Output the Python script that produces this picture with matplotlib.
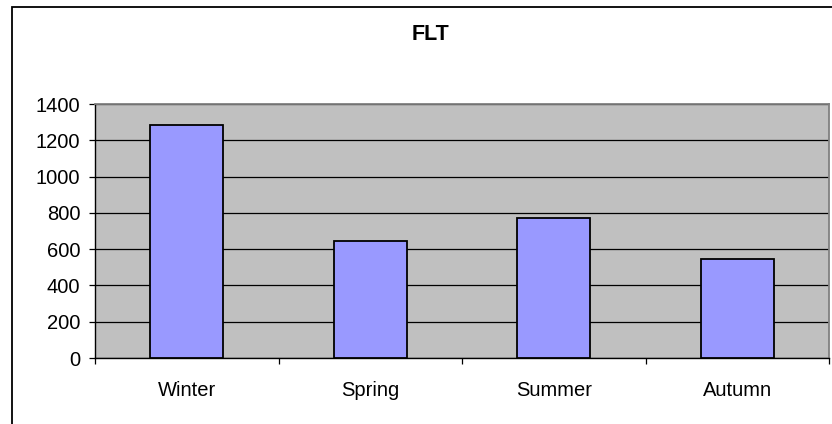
import matplotlib
matplotlib.use('Agg')
import matplotlib.pyplot as plt
from matplotlib.patches import Rectangle
import numpy as np

plt.rcParams['font.family'] = ['Liberation Sans', 'DejaVu Sans']

# 数据
seasons = ["Winter", "Spring", "Summer", "Autumn"]
flt_values = [1284, 646, 773, 548]
y_ticks = [0, 200, 400, 600, 800, 1000, 1200, 1400]

W, H = 832, 424
fig = plt.figure(figsize=(W / 100, H / 100), dpi=100, facecolor='white')

# 外边框 (右侧和底部在画面外)
fig.patches.append(Rectangle((12 / W, -0.1), 1.2, (H - 7) / H + 0.1,
                             transform=fig.transFigure, fill=False,
                             edgecolor='black', linewidth=1.3))

ax = fig.add_axes([95 / W, (H - 358) / H, (829 - 95) / W, (358 - 104) / H])
ax.set_facecolor('#C0C0C0')

x = np.arange(len(seasons))
ax.bar(x, flt_values, width=0.4, color='#9999FF', edgecolor='black',
       linewidth=1.3, zorder=3)

ax.set_xlim(-0.5, len(seasons) - 0.5)
ax.set_ylim(0, 1400)
ax.set_yticks(y_ticks)
ax.yaxis.grid(True, color='black', linewidth=0.9, zorder=1)
ax.set_axisbelow(True)

ax.set_xticks(x)
ax.set_xticklabels(seasons)
ax.set_xticks(np.arange(len(seasons) + 1) - 0.5, minor=True)
ax.tick_params(axis='x', which='major', length=0, pad=16.5, labelsize=14.5)
ax.tick_params(axis='x', which='minor', length=4, width=0.9, direction='out')
ax.tick_params(axis='y', length=4, width=0.9, pad=6.5, labelsize=14.5)

for side in ['left', 'bottom']:
    ax.spines[side].set_color('black')
    ax.spines[side].set_linewidth(1.0)
for side in ['top', 'right']:
    ax.spines[side].set_color('#808080')
    ax.spines[side].set_linewidth(1.3)

fig.text(430 / W, (H - 35) / H, 'FLT', ha='center', va='center',
         fontsize=15.5, fontweight='bold')

plt.savefig('out.png', dpi=100, facecolor='white')
plt.close()
